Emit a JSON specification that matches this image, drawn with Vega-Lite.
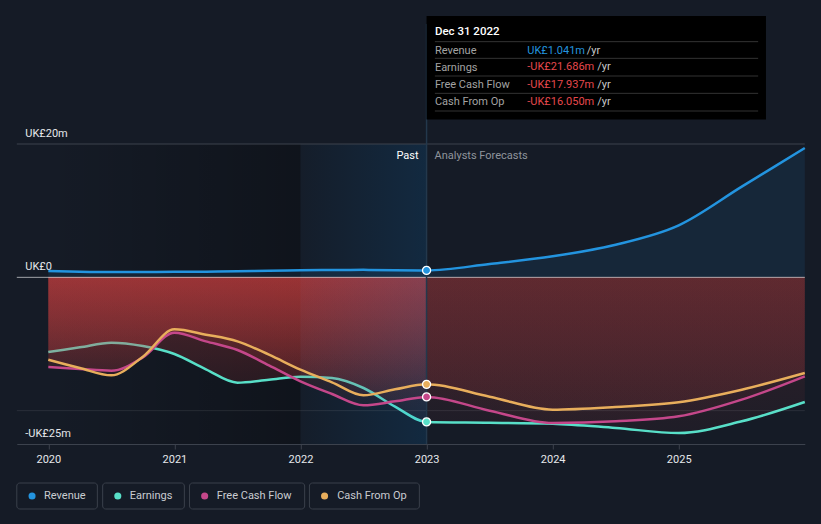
{
  "$schema": "https://vega.github.io/schema/vega-lite/v6.json",
  "width": 788,
  "height": 300,
  "autosize": {"type": "none"},
  "padding": {"left": 16.8, "top": 144, "right": 16.2, "bottom": 80},
  "background": "#151b26",
  "config": {"view": {"stroke": null}, "font": "Roboto"},
  "datasets": {
    "main": [
      {"t": 2020.0, "s": "Revenue", "v": 0.95}, {"t": 2020.25, "s": "Revenue", "v": 0.85}, {"t": 2020.5, "s": "Revenue", "v": 0.8}, {"t": 2020.75, "s": "Revenue", "v": 0.8},
      {"t": 2021.0, "s": "Revenue", "v": 0.82}, {"t": 2021.25, "s": "Revenue", "v": 0.85}, {"t": 2021.5, "s": "Revenue", "v": 0.9}, {"t": 2021.75, "s": "Revenue", "v": 1.0},
      {"t": 2022.0, "s": "Revenue", "v": 1.05}, {"t": 2022.25, "s": "Revenue", "v": 1.1}, {"t": 2022.5, "s": "Revenue", "v": 1.12}, {"t": 2022.75, "s": "Revenue", "v": 1.08},
      {"t": 2023.0, "s": "Revenue", "v": 1.041}, {"t": 2023.5, "s": "Revenue", "v": 2.0}, {"t": 2024.0, "s": "Revenue", "v": 3.15}, {"t": 2024.5, "s": "Revenue", "v": 4.9},
      {"t": 2025.0, "s": "Revenue", "v": 7.8}, {"t": 2025.5, "s": "Revenue", "v": 13.6}, {"t": 2026.0, "s": "Revenue", "v": 19.4},

      {"t": 2020.0, "s": "Earnings", "v": -11.2}, {"t": 2020.25, "s": "Earnings", "v": -10.5}, {"t": 2020.5, "s": "Earnings", "v": -9.8}, {"t": 2020.75, "s": "Earnings", "v": -10.3},
      {"t": 2021.0, "s": "Earnings", "v": -11.5}, {"t": 2021.25, "s": "Earnings", "v": -13.8}, {"t": 2021.5, "s": "Earnings", "v": -15.8}, {"t": 2021.75, "s": "Earnings", "v": -15.35},
      {"t": 2022.0, "s": "Earnings", "v": -14.9}, {"t": 2022.25, "s": "Earnings", "v": -15.1}, {"t": 2022.5, "s": "Earnings", "v": -16.6}, {"t": 2022.75, "s": "Earnings", "v": -19.4},
      {"t": 2023.0, "s": "Earnings", "v": -21.686}, {"t": 2023.5, "s": "Earnings", "v": -21.8}, {"t": 2024.0, "s": "Earnings", "v": -21.95}, {"t": 2024.5, "s": "Earnings", "v": -22.6},
      {"t": 2025.0, "s": "Earnings", "v": -23.35}, {"t": 2025.5, "s": "Earnings", "v": -21.6}, {"t": 2026.0, "s": "Earnings", "v": -18.7},

      {"t": 2020.0, "s": "Free Cash Flow", "v": -13.45}, {"t": 2020.25, "s": "Free Cash Flow", "v": -13.75}, {"t": 2020.5, "s": "Free Cash Flow", "v": -14.0}, {"t": 2020.75, "s": "Free Cash Flow", "v": -12.0},
      {"t": 2021.0, "s": "Free Cash Flow", "v": -8.3}, {"t": 2021.25, "s": "Free Cash Flow", "v": -9.6}, {"t": 2021.5, "s": "Free Cash Flow", "v": -10.9}, {"t": 2021.75, "s": "Free Cash Flow", "v": -13.2},
      {"t": 2022.0, "s": "Free Cash Flow", "v": -15.6}, {"t": 2022.25, "s": "Free Cash Flow", "v": -17.5}, {"t": 2022.5, "s": "Free Cash Flow", "v": -19.2}, {"t": 2022.75, "s": "Free Cash Flow", "v": -18.6},
      {"t": 2023.0, "s": "Free Cash Flow", "v": -17.937}, {"t": 2023.5, "s": "Free Cash Flow", "v": -20.0}, {"t": 2024.0, "s": "Free Cash Flow", "v": -21.85}, {"t": 2024.5, "s": "Free Cash Flow", "v": -21.6},
      {"t": 2025.0, "s": "Free Cash Flow", "v": -20.85}, {"t": 2025.5, "s": "Free Cash Flow", "v": -18.35}, {"t": 2026.0, "s": "Free Cash Flow", "v": -14.85},

      {"t": 2020.0, "s": "Cash From Op", "v": -12.35}, {"t": 2020.25, "s": "Cash From Op", "v": -13.6}, {"t": 2020.5, "s": "Cash From Op", "v": -14.7}, {"t": 2020.75, "s": "Cash From Op", "v": -11.9},
      {"t": 2021.0, "s": "Cash From Op", "v": -7.8}, {"t": 2021.25, "s": "Cash From Op", "v": -8.6}, {"t": 2021.5, "s": "Cash From Op", "v": -9.6}, {"t": 2021.75, "s": "Cash From Op", "v": -11.6},
      {"t": 2022.0, "s": "Cash From Op", "v": -13.85}, {"t": 2022.25, "s": "Cash From Op", "v": -15.75}, {"t": 2022.5, "s": "Cash From Op", "v": -17.7}, {"t": 2022.75, "s": "Cash From Op", "v": -16.8},
      {"t": 2023.0, "s": "Cash From Op", "v": -16.05}, {"t": 2023.5, "s": "Cash From Op", "v": -17.9}, {"t": 2024.0, "s": "Cash From Op", "v": -19.85}, {"t": 2024.5, "s": "Cash From Op", "v": -19.45},
      {"t": 2025.0, "s": "Cash From Op", "v": -18.75}, {"t": 2025.5, "s": "Cash From Op", "v": -16.85}, {"t": 2026.0, "s": "Cash From Op", "v": -14.35}
    ],
    "one": [{"k": 1}]
  },
  "layer": [
    {
      "data": {"name": "one"},
      "mark": {"type": "rect", "fill": {"gradient": "linear", "x1": 0, "y1": 0, "x2": 1, "y2": 0,
        "stops": [{"offset": 0, "color": "rgba(0,0,0,0)"}, {"offset": 1, "color": "rgba(0,0,0,0.28)"}]}},
      "encoding": {
        "x": {"datum": 2020, "type": "quantitative", "scale": {"domain": [2019.75, 2026.0], "nice": false, "zero": false},
              "axis": {"title": null, "values": [2020, 2021, 2022, 2023, 2024, 2025], "format": "d", "grid": false,
               "domainColor": "#3c424d", "tickColor": "#3c424d", "tickSize": 5, "labelColor": "#e6e8eb",
               "labelFontSize": 11, "labelFont": "Roboto", "labelPadding": 4}},
        "x2": {"datum": 2022},
        "y": {"datum": 20, "type": "quantitative", "scale": {"domain": [-25, 20], "nice": false, "zero": false},
              "axis": {"title": null, "values": [-25, 0, 20], "grid": false, "domain": false, "ticks": false, "tickSize": 0,
               "labelAlign": "left", "labelPadding": -8, "labelBaseline": "alphabetic", "labelOffset": -8,
               "labelColor": "#e6e8eb", "labelFontSize": 11, "labelFont": "Roboto",
               "labelExpr": "datum.value == 0 ? 'UK£0' : (datum.value < 0 ? '-UK£' + abs(datum.value) + 'm' : 'UK£' + datum.value + 'm')"}},
        "y2": {"datum": -25}
      }
    },
    {
      "data": {"name": "main"},
      "encoding": {
        "x": {"field": "t", "type": "quantitative"},
        "y": {"field": "v", "type": "quantitative"}
      },
      "layer": [
        {
          "transform": [{"filter": "datum.s == 'Revenue'"}],
          "mark": {"type": "area", "interpolate": "monotone", "fill": "rgba(35,148,223,0.1)"},
          "encoding": {"y2": {"datum": 0}}
        },
        {
          "transform": [{"filter": "datum.s == 'Earnings' && datum.t <= 2023"}],
          "mark": {"type": "area", "interpolate": "monotone", "fill": {"gradient": "linear", "x1": 0, "y1": 0, "x2": 0, "y2": 1,
            "stops": [{"offset": 0, "color": "rgba(216,65,64,0.32)"}, {"offset": 1, "color": "rgba(216,65,64,0.05)"}]}},
          "encoding": {"y2": {"datum": 0}}
        },
        {
          "transform": [{"filter": "datum.s == 'Earnings' && datum.t >= 2023"}],
          "mark": {"type": "area", "interpolate": "monotone", "fill": {"gradient": "linear", "x1": 0, "y1": 0, "x2": 0, "y2": 1,
            "stops": [{"offset": 0, "color": "rgba(216,65,64,0.14)"}, {"offset": 1, "color": "rgba(216,65,64,0.05)"}]}},
          "encoding": {"y2": {"datum": 0}}
        },
        {
          "transform": [{"filter": "datum.s == 'Earnings'"}],
          "mark": {"type": "line", "interpolate": "monotone", "strokeWidth": 2.5, "color": "#58dfc8"}
        },
        {
          "transform": [{"filter": "datum.s == 'Free Cash Flow' && datum.t <= 2023"}],
          "mark": {"type": "area", "interpolate": "monotone", "fill": {"gradient": "linear", "x1": 0, "y1": 0, "x2": 0, "y2": 1,
            "stops": [{"offset": 0, "color": "rgba(216,65,64,0.32)"}, {"offset": 1, "color": "rgba(216,65,64,0.05)"}]}},
          "encoding": {"y2": {"datum": 0}}
        },
        {
          "transform": [{"filter": "datum.s == 'Free Cash Flow' && datum.t >= 2023"}],
          "mark": {"type": "area", "interpolate": "monotone", "fill": {"gradient": "linear", "x1": 0, "y1": 0, "x2": 0, "y2": 1,
            "stops": [{"offset": 0, "color": "rgba(216,65,64,0.14)"}, {"offset": 1, "color": "rgba(216,65,64,0.05)"}]}},
          "encoding": {"y2": {"datum": 0}}
        },
        {
          "transform": [{"filter": "datum.s == 'Cash From Op' && datum.t <= 2023"}],
          "mark": {"type": "area", "interpolate": "monotone", "fill": {"gradient": "linear", "x1": 0, "y1": 0, "x2": 0, "y2": 1,
            "stops": [{"offset": 0, "color": "rgba(216,65,64,0.32)"}, {"offset": 1, "color": "rgba(216,65,64,0.05)"}]}},
          "encoding": {"y2": {"datum": 0}}
        },
        {
          "transform": [{"filter": "datum.s == 'Cash From Op' && datum.t >= 2023"}],
          "mark": {"type": "area", "interpolate": "monotone", "fill": {"gradient": "linear", "x1": 0, "y1": 0, "x2": 0, "y2": 1,
            "stops": [{"offset": 0, "color": "rgba(216,65,64,0.16)"}, {"offset": 1, "color": "rgba(216,65,64,0.1)"}]}},
          "encoding": {"y2": {"datum": 0}}
        }
      ]
    },
    {
      "data": {"name": "one"},
      "mark": {"type": "rect", "fill": {"gradient": "linear", "x1": 0, "y1": 0, "x2": 1, "y2": 0,
        "stops": [{"offset": 0, "color": "rgba(0,140,240,0.02)"}, {"offset": 1, "color": "rgba(0,140,240,0.13)"}]}},
      "encoding": {"x": {"datum": 2022}, "x2": {"datum": 2023}, "y": {"datum": 20}, "y2": {"datum": -25}}
    },
    {
      "data": {"name": "one"},
      "mark": {"type": "rule", "color": "#3c424d", "strokeWidth": 1},
      "encoding": {"x": {"datum": 2019.75}, "x2": {"datum": 2026.0}, "y": {"datum": 20}}
    },
    {
      "data": {"name": "one"},
      "mark": {"type": "rule", "color": "rgba(255,255,255,0.09)", "strokeWidth": 1},
      "encoding": {"x": {"datum": 2019.75}, "x2": {"datum": 2026.0}, "y": {"datum": -20}}
    },
    {
      "data": {"name": "one"},
      "mark": {"type": "rule", "color": "rgba(255,255,255,0.6)", "strokeWidth": 1},
      "encoding": {"x": {"datum": 2019.75}, "x2": {"datum": 2026.0}, "y": {"datum": 0}}
    },
    {
      "data": {"name": "one"},
      "mark": {"type": "rule", "color": "#23384c", "strokeWidth": 1.5},
      "encoding": {"x": {"datum": 2023}, "y": {"datum": 38}, "y2": {"datum": -25}}
    },
    {
      "data": {"name": "main"},
      "transform": [{"filter": "datum.s != 'Earnings'"}],
      "mark": {"type": "line", "interpolate": "monotone", "strokeWidth": 2.5},
      "encoding": {
        "x": {"field": "t", "type": "quantitative"},
        "y": {"field": "v", "type": "quantitative"},
        "color": {"field": "s", "type": "nominal", "legend": null,
                  "scale": {"domain": ["Revenue", "Earnings", "Free Cash Flow", "Cash From Op"], "range": ["#2394df", "#58dfc8", "#c4478a", "#e8ae5c"]}}
      }
    },
    {
      "data": {"name": "main"},
      "transform": [{"filter": "datum.t == 2023"}],
      "mark": {"type": "point", "filled": true, "size": 65, "stroke": "#ffffff", "strokeWidth": 1.3, "opacity": 1},
      "encoding": {
        "x": {"field": "t", "type": "quantitative"},
        "y": {"field": "v", "type": "quantitative"},
        "fill": {"field": "s", "type": "nominal", "legend": null,
                 "scale": {"domain": ["Revenue", "Earnings", "Free Cash Flow", "Cash From Op"], "range": ["#2394df", "#58dfc8", "#c4478a", "#e8ae5c"]}}
      }
    },
    {
      "data": {"name": "one"},
      "mark": {"type": "text", "align": "right", "baseline": "middle", "dx": -8, "fontSize": 11, "color": "#ffffff", "font": "Roboto"},
      "encoding": {"x": {"datum": 2023}, "y": {"datum": 18.2}, "text": {"value": "Past"}}
    },
    {
      "data": {"name": "one"},
      "mark": {"type": "text", "align": "left", "baseline": "middle", "dx": 8, "fontSize": 11, "color": "#8f949c", "font": "Roboto"},
      "encoding": {"x": {"datum": 2023}, "y": {"datum": 18.2}, "text": {"value": "Analysts Forecasts"}}
    },
    {
      "data": {"name": "one"},
      "mark": {"type": "rect", "fill": "#000000"},
      "encoding": {"x": {"datum": 2023.0}, "x2": {"datum": 2025.692}, "y": {"datum": 39.2}, "y2": {"datum": 23.67}}
    },
    {
      "data": {"name": "one"},
      "mark": {"type": "text", "align": "left", "baseline": "middle", "fontSize": 11.5, "fontWeight": 500, "color": "#ffffff", "font": "Roboto"},
      "encoding": {"x": {"datum": 2023.066}, "y": {"datum": 36.8}, "text": {"value": "Dec 31 2022"}}
    },
    {
      "data": {"name": "one"},
      "mark": {"type": "rule", "color": "#333333", "strokeWidth": 1},
      "encoding": {"x": {"datum": 2023.066}, "x2": {"datum": 2025.63}, "y": {"datum": 35.35}}
    },
    {
      "data": {"name": "one"},
      "mark": {"type": "rule", "color": "#333333", "strokeWidth": 1},
      "encoding": {"x": {"datum": 2023.066}, "x2": {"datum": 2025.63}, "y": {"datum": 32.85}}
    },
    {
      "data": {"name": "one"},
      "mark": {"type": "rule", "color": "#333333", "strokeWidth": 1},
      "encoding": {"x": {"datum": 2023.066}, "x2": {"datum": 2025.63}, "y": {"datum": 30.2}}
    },
    {
      "data": {"name": "one"},
      "mark": {"type": "rule", "color": "#333333", "strokeWidth": 1},
      "encoding": {"x": {"datum": 2023.066}, "x2": {"datum": 2025.63}, "y": {"datum": 27.6}}
    },
    {
      "data": {"name": "one"},
      "mark": {"type": "rule", "color": "#333333", "strokeWidth": 1},
      "encoding": {"x": {"datum": 2023.066}, "x2": {"datum": 2025.63}, "y": {"datum": 24.95}}
    },
    {
      "data": {"name": "one"},
      "mark": {"type": "text", "align": "left", "baseline": "middle", "fontSize": 11, "color": "#a3a3a3", "lineHeight": 17.13, "font": "Roboto"},
      "encoding": {"x": {"datum": 2023.066}, "y": {"datum": 34.0}, "text": {"value": ["Revenue", "Earnings", "Free Cash Flow", "Cash From Op"]}}
    },
    {
      "data": {"name": "one"},
      "mark": {"type": "text", "align": "left", "baseline": "middle", "fontSize": 11, "color": "#2394df", "font": "Roboto"},
      "encoding": {"x": {"datum": 2023.799}, "y": {"datum": 34.0}, "text": {"value": "UK£1.041m"}}
    },
    {
      "data": {"name": "one"},
      "mark": {"type": "text", "align": "left", "baseline": "middle", "fontSize": 11, "color": "#e5484d", "lineHeight": 17.3, "font": "Roboto"},
      "encoding": {"x": {"datum": 2023.799}, "y": {"datum": 31.5}, "text": {"value": ["-UK£21.686m", "-UK£17.937m", "-UK£16.050m"]}}
    },
    {
      "data": {"name": "one"},
      "mark": {"type": "text", "align": "left", "baseline": "middle", "fontSize": 11, "color": "#c8c8c8", "font": "Roboto"},
      "encoding": {"x": {"datum": 2024.27}, "y": {"datum": 34.0}, "text": {"value": "/yr"}}
    },
    {
      "data": {"name": "one"},
      "mark": {"type": "text", "align": "left", "baseline": "middle", "fontSize": 11, "color": "#c8c8c8", "lineHeight": 17.3, "font": "Roboto"},
      "encoding": {"x": {"datum": 2024.354}, "y": {"datum": 31.5}, "text": {"value": ["/yr", "/yr", "/yr"]}}
    },
    {
      "data": {"name": "one"},
      "layer": [
        {"mark": {"type": "rect", "fill": "transparent", "stroke": "#3a404b", "strokeWidth": 1, "cornerRadius": 3},
         "encoding": {"x": {"datum": 2019.75}, "x2": {"datum": 2020.389}, "y": {"datum": -30.85}, "y2": {"datum": -34.75}}},
        {"mark": {"type": "point", "filled": true, "size": 50, "color": "#2394df", "opacity": 1},
         "encoding": {"x": {"datum": 2019.871}, "y": {"datum": -32.8}}},
        {"mark": {"type": "text", "align": "left", "baseline": "middle", "fontSize": 11, "color": "#c9ccd1", "font": "Roboto"},
         "encoding": {"x": {"datum": 2019.966}, "y": {"datum": -32.8}, "text": {"value": "Revenue"}}},
        {"mark": {"type": "rect", "fill": "transparent", "stroke": "#3a404b", "strokeWidth": 1, "cornerRadius": 3},
         "encoding": {"x": {"datum": 2020.431}, "x2": {"datum": 2021.079}, "y": {"datum": -30.85}, "y2": {"datum": -34.75}}},
        {"mark": {"type": "point", "filled": true, "size": 50, "color": "#58dfc8", "opacity": 1},
         "encoding": {"x": {"datum": 2020.551}, "y": {"datum": -32.8}}},
        {"mark": {"type": "text", "align": "left", "baseline": "middle", "fontSize": 11, "color": "#c9ccd1", "font": "Roboto"},
         "encoding": {"x": {"datum": 2020.646}, "y": {"datum": -32.8}, "text": {"value": "Earnings"}}},
        {"mark": {"type": "rect", "fill": "transparent", "stroke": "#3a404b", "strokeWidth": 1, "cornerRadius": 3},
         "encoding": {"x": {"datum": 2021.12}, "x2": {"datum": 2022.033}, "y": {"datum": -30.85}, "y2": {"datum": -34.75}}},
        {"mark": {"type": "point", "filled": true, "size": 50, "color": "#c4478a", "opacity": 1},
         "encoding": {"x": {"datum": 2021.24}, "y": {"datum": -32.8}}},
        {"mark": {"type": "text", "align": "left", "baseline": "middle", "fontSize": 11, "color": "#c9ccd1", "font": "Roboto"},
         "encoding": {"x": {"datum": 2021.336}, "y": {"datum": -32.8}, "text": {"value": "Free Cash Flow"}}},
        {"mark": {"type": "rect", "fill": "transparent", "stroke": "#3a404b", "strokeWidth": 1, "cornerRadius": 3},
         "encoding": {"x": {"datum": 2022.071}, "x2": {"datum": 2022.943}, "y": {"datum": -30.85}, "y2": {"datum": -34.75}}},
        {"mark": {"type": "point", "filled": true, "size": 50, "color": "#e8ae5c", "opacity": 1},
         "encoding": {"x": {"datum": 2022.191}, "y": {"datum": -32.8}}},
        {"mark": {"type": "text", "align": "left", "baseline": "middle", "fontSize": 11, "color": "#c9ccd1", "font": "Roboto"},
         "encoding": {"x": {"datum": 2022.291}, "y": {"datum": -32.8}, "text": {"value": "Cash From Op"}}}
      ]
    }
  ]
}
